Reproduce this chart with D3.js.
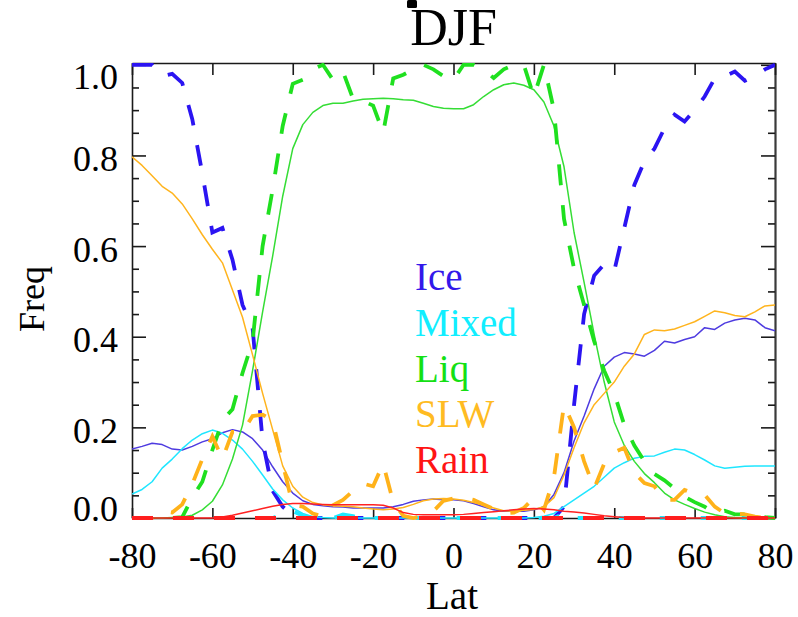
<!DOCTYPE html>
<html>
<head>
<meta charset="utf-8">
<script src="https://cdn.jsdelivr.net/npm/d3@7"></script>
<style>
  html, body { margin: 0; padding: 0; background: #fff; }
  svg { display: block; }
  text { font-family: "Liberation Serif", "Times New Roman", serif; }
</style>
</head>
<body>
<div id="chart"></div>
<script>
// ---------------- DATA ----------------

// latitude grid, rows of 13 (-80..-50, -47.5..-17.5, -15..15, 17.5..47.5, 50..80)
const lats = [
  -80, -77.5, -75, -72.5, -70, -67.5, -65, -62.5, -60, -57.5, -55, -52.5, -50,
  -47.5, -45, -42.5, -40, -37.5, -35, -32.5, -30, -27.5, -25, -22.5, -20, -17.5,
  -15, -12.5, -10, -7.5, -5, -2.5, 0, 2.5, 5, 7.5, 10, 12.5, 15,
  17.5, 20, 22.5, 25, 27.5, 30, 32.5, 35, 37.5, 40, 42.5, 45, 47.5,
  50, 52.5, 55, 57.5, 60, 62.5, 65, 67.5, 70, 72.5, 75, 77.5, 80
];

const iceSolid = [
  .152, .158, .165, .162, .152, .150, .158, .168, .175, .188, .195, .190, .175,
  .150, .113, .080, .055, .038, .030, .027, .025, .024, .022, .022, .022, .022,
  .025, .030, .037, .040, .042, .040, .040, .038, .032, .025, .018, .015, .015,
  .015, .018, .025, .052, .100, .170, .225, .285, .335, .355, .365, .362, .357,
  .370, .390, .386, .394, .400, .420, .416, .430, .437, .441, .437, .420, .413
];
const iceDash = [
  1, 1, 1, .975, .98, .96, .88, .76, .63, .64, .57, .47, .42,
  .17, .06, .025, .005, 0, 0, 0, 0, 0, 0, 0, 0, 0,
  0, 0, 0, 0, 0, 0, 0, 0, 0, 0, 0, 0, 0,
  0, 0, 0, 0, .025, .25, .45, .535, .56, .545, .64, .735, .787,
  .815, .86, .89, .875, .90, .93, .97, .975, .985, .965, .975, .99, 1
];

const mixedSolid = [
  .053, .063, .080, .110, .130, .153, .172, .186, .194, .187, .172, .152, .125,
  .095, .064, .040, .022, .010, .003, .001, 0, 0, 0, 0, 0, 0,
  0, 0, 0, 0, 0, 0, 0, 0, 0, 0, 0, 0, 0,
  0, .001, .004, .010, .025, .040, .055, .070, .090, .110, .122, .132, .136,
  .137, .145, .152, .150, .140, .128, .115, .110, .112, .114, .115, .115, .115
];
const mixedDash = [
  0, 0, 0, 0, 0, 0, 0, 0, 0, 0, 0, 0, 0,
  0, 0, .008, .015, .005, 0, 0, 0, .008, .004, 0, 0, 0,
  0, 0, 0, 0, 0, 0, 0, 0, 0, 0, 0, 0, 0,
  0, 0, 0, 0, .010, 0, 0, 0, 0, 0, 0, 0, 0,
  0, 0, 0, 0, 0, 0, 0, 0, 0, 0, 0, 0, 0
];

const liqSolid = [
  0, 0, 0, 0, .001, .002, .006, .018, .037, .073, .130, .205, .325,
  .455, .578, .710, .815, .868, .895, .910, .915, .915, .920, .924, .925, .926,
  .925, .923, .922, .915, .908, .904, .903, .903, .912, .930, .945, .956, .960,
  .955, .945, .918, .865, .775, .630, .520, .405, .300, .212, .160, .125, .098,
  .078, .055, .040, .030, .021, .013, .007, .003, .001, 0, 0, 0, 0
];
const liqDash = [
  0, 0, 0, 0, 0, .002, .045, .08, .15, .215, .24, .32, .39,
  .60, .725, .865, .958, .967, .99, 1, .967, .985, .925, .92, .91, .85,
  .97, .978, .99, 1, .99, .975, .967, 1, 1, .989, .971, .99, 1,
  1, .93, 1, .90, .66, .55, .47, .39, .325, .275, .205, .16, .125,
  .097, .083, .065, .047, .035, .025, .010, .016, .008, .008, .008, .002, 0
];

const slwSolid = [
  .797, .778, .755, .732, .717, .693, .660, .625, .593, .563, .503, .443, .360,
  .275, .195, .115, .070, .046, .034, .029, .027, .026, .025, .022, .020, .018,
  .020, .023, .030, .038, .042, .043, .042, .039, .034, .028, .022, .016, .015,
  .017, .019, .025, .045, .095, .155, .210, .250, .275, .300, .335, .362, .405,
  .415, .413, .417, .425, .433, .445, .457, .453, .447, .444, .455, .468, .470
];
const slwDash = [
  0, 0, 0, .015, .012, .03, .075, .13, .18, .13, .19, .19, .225,
  .228, .215, .12, .028, .025, .01, .003, .028, .04, .06, .076, .07, .12,
  .035, .005, 0, .004, .015, .038, .043, .045, .04, .03, .02, .01, .012,
  .022, .045, .018, .09, .25, .20, .125, .065, .12, .145, .155, .10, .077,
  .07, .04, .04, .062, .054, .051, .025, .01, .01, .008, .003, 0, 0
];

const rainSolid = [
  0, 0, 0, 0, 0, 0, 0, 0, 0, .002, .006, .011, .016,
  .021, .026, .030, .032, .032, .031, .030, .029, .029, .029, .029, .029, .028,
  .022, .012, .008, .007, .007, .007, .007, .008, .010, .012, .014, .016, .018,
  .020, .021, .020, .018, .015, .013, .011, .008, .005, .003, .001, 0, 0,
  0, 0, 0, 0, 0, 0, 0, 0, 0, 0, 0, 0, 0
];
const rainDash = [
  0, 0, 0, 0, 0, 0, 0, 0, 0, 0, 0, 0, 0,
  0, 0, 0, 0, 0, 0, 0, 0, 0, 0, 0, 0, 0,
  0, 0, 0, 0, 0, 0, 0, 0, 0, 0, 0, 0, 0,
  0, 0, 0, 0, 0, 0, 0, 0, 0, 0, 0, 0, 0,
  0, 0, 0, 0, 0, 0, 0, 0, 0, 0, 0, 0, 0
];

const names = ["Ice", "Mixed", "Liq", "SLW", "Rain"];
const xTicks = [-80, -60, -40, -20, 0, 20, 40, 60, 80];
const yTicks = [0, 0.2, 0.4, 0.6, 0.8, 1.0];
const yMinor = [0.05, 0.1, 0.15, 0.25, 0.3, 0.35, 0.45, 0.5, 0.55, 0.65, 0.7, 0.75, 0.85, 0.9, 0.95];

// ---------------- STYLE ----------------

const solidColor = { Ice: "#4e3be0", Mixed: "#1fe6ff", Liq: "#35dd35", SLW: "#ffb41e", Rain: "#ff2222" };
const dashColor  = { Ice: "#2b14f2", Mixed: "#1ee8ff", Liq: "#1fe01f", SLW: "#ffb21a", Rain: "#ff1e1e" };
const textColor  = { Ice: "#3318ea", Mixed: "#11eeff", Liq: "#14e014", SLW: "#ffbb22", Rain: "#ff1414" };

const series = [
  { name: "Ice", solid: iceSolid, dashed: iceDash },
  { name: "Mixed", solid: mixedSolid, dashed: mixedDash },
  { name: "Liq", solid: liqSolid, dashed: liqDash },
  { name: "SLW", solid: slwSolid, dashed: slwDash },
  { name: "Rain", solid: rainSolid, dashed: rainDash },
];

// ---------------- CHART ----------------

const width = 798, height = 617;
const margin = { top: 63, right: 23, bottom: 99, left: 132 };

const svg = d3.select("#chart")
  .append("svg")
  .attr("width", width)
  .attr("height", height);

svg.append("rect").attr("width", width).attr("height", height).attr("fill", "#fff");

const x = d3.scaleLinear()
  .domain([-80, 80])
  .range([margin.left, width - margin.right]);

const y = d3.scaleLinear()
  .domain([0, 1.004])
  .range([height - margin.bottom, margin.top]);

const frame = "#1a1a1a";
const fs = 36;

function styleAxis(g) {
  g.select(".domain").attr("stroke", frame).attr("stroke-width", 1.6);
  g.selectAll(".tick line").attr("stroke", frame).attr("stroke-width", 1.6);
  g.selectAll("text")
    .attr("fill", "#000")
    .style("font-family", "'Liberation Serif', 'Times New Roman', serif")
    .style("font-size", fs + "px");
}

// left
svg.append("g")
  .attr("transform", `translate(${margin.left},0)`)
  .call(d3.axisLeft(y).tickValues(yTicks).tickSizeInner(-14).tickSizeOuter(0)
    .tickPadding(14).tickFormat(d3.format(".1f")))
  .call(styleAxis)
  .call(g => g.selectAll("text").attr("dy", d => d === 0 ? 2 : d === 1 ? 24 : 15));

svg.append("g")
  .attr("transform", `translate(${margin.left},0)`)
  .call(d3.axisLeft(y).tickValues(yMinor).tickSizeInner(-7).tickSizeOuter(0).tickFormat(""))
  .call(styleAxis)
  .call(g => g.select(".domain").remove());

// right
svg.append("g")
  .attr("transform", `translate(${width - margin.right},0)`)
  .call(d3.axisRight(y).tickValues(yTicks).tickSizeInner(-14).tickSizeOuter(0).tickFormat(""))
  .call(styleAxis)
  .call(g => g.select(".domain").attr("stroke", "#3a3a3a").attr("stroke-width", 2.2));

svg.append("g")
  .attr("transform", `translate(${width - margin.right},0)`)
  .call(d3.axisRight(y).tickValues(yMinor).tickSizeInner(-7).tickSizeOuter(0).tickFormat(""))
  .call(styleAxis)
  .call(g => g.select(".domain").remove());

// bottom
svg.append("g")
  .attr("transform", `translate(0,${height - margin.bottom})`)
  .call(d3.axisBottom(x).tickValues(xTicks).tickSizeInner(-10).tickSizeOuter(0)
    .tickPadding(24).tickFormat(d => String(d)))
  .call(styleAxis);

// top
svg.append("g")
  .attr("transform", `translate(0,${margin.top})`)
  .call(d3.axisTop(x).tickValues(xTicks).tickSizeInner(-12).tickSizeOuter(0).tickFormat(""))
  .call(styleAxis);

// ---------------- LINES ----------------

svg.append("clipPath").attr("id", "plot-clip")
  .append("rect")
  .attr("x", margin.left)
  .attr("y", margin.top)
  .attr("width", width - margin.left - margin.right)
  .attr("height", height - margin.top - margin.bottom + 6);

const line = d3.line()
  .x((d, i) => x(lats[i]))
  .y(d => y(d));

const lines = svg.append("g").attr("clip-path", "url(#plot-clip)");

series.forEach(s => {
  lines.append("path")
    .attr("d", line(s.solid))
    .attr("fill", "none")
    .attr("stroke", solidColor[s.name])
    .attr("stroke-width", 1.5)
    .attr("stroke-linejoin", "round");

  lines.append("path")
    .attr("d", line(s.dashed))
    .attr("fill", "none")
    .attr("stroke", dashColor[s.name])
    .attr("stroke-width", 3.8)
    .attr("stroke-dasharray", "21,20");
});

// ---------------- LEGEND ----------------

svg.append("g")
  .selectAll("text")
  .data(names)
  .join("text")
  .attr("x", 415)
  .attr("y", (d, i) => 290 + i * 45.75)
  .attr("fill", d => textColor[d])
  .style("font-size", "39px")
  .text(d => d);

// ---------------- TITLES ----------------

svg.append("text")
  .attr("x", (margin.left + width - margin.right) / 2)
  .attr("y", 45)
  .attr("text-anchor", "middle")
  .style("font-size", "52px")
  .text("DJF");

svg.append("rect")
  .attr("x", 407).attr("y", 0)
  .attr("width", 10).attr("height", 8)
  .attr("rx", 1.5)
  .attr("fill", "#000");

svg.append("text")
  .attr("transform", "translate(44,299) rotate(-90)")
  .attr("text-anchor", "middle")
  .style("font-size", "36px")
  .text("Freq");

svg.append("text")
  .attr("x", 452)
  .attr("y", 609)
  .attr("text-anchor", "middle")
  .style("font-size", "39px")
  .text("Lat");
</script>
</body>
</html>
